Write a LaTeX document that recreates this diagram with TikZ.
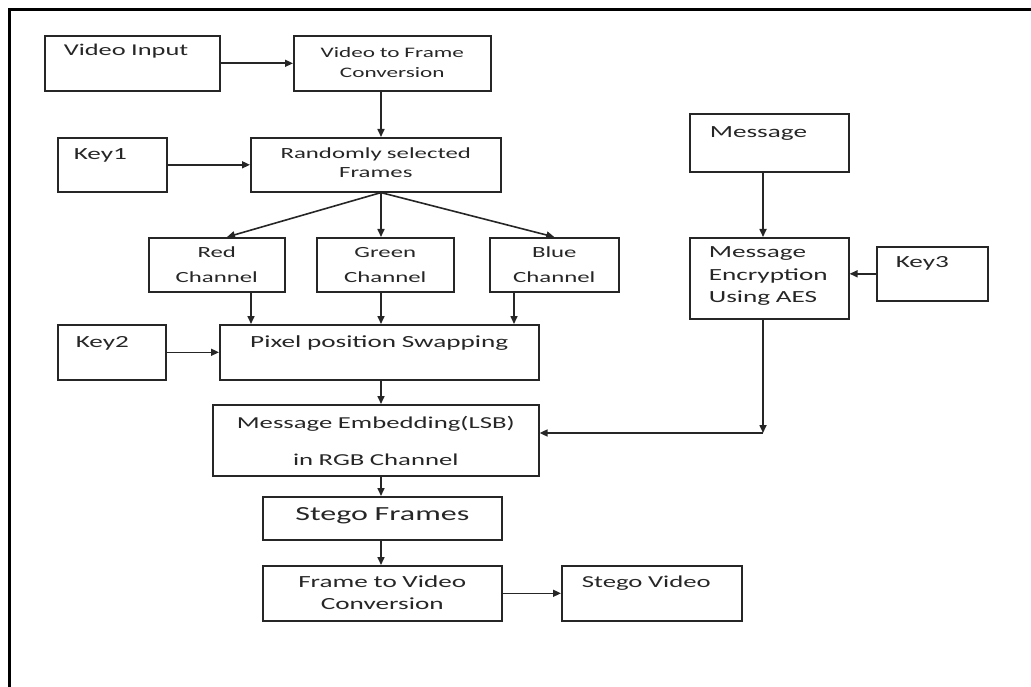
\documentclass[tikz,border=0pt]{standalone}
\usepackage{fontspec}
\newfontfamily\boxfont[FakeStretch=1.6]{Carlito}
\usetikzlibrary{arrows.meta}

\tikzset{
  box/.style={draw=black!85, line width=1.6pt, anchor=north west, inner ysep=0pt, text=black!85},
  lft/.style={box, align=left, inner xsep=19pt},
  ctr/.style={box, align=center, inner xsep=4pt},
  fs/.style 2 args={font=\boxfont\fontsize{#1}{#2}\selectfont},
  arr/.style={draw=black!85, line width=1.6pt, -{Triangle[length=8pt,width=7pt]}}
}

\begin{document}
\begin{tikzpicture}[x=1pt, y=-1pt]
   \useasboundingbox (0,0) rectangle (1031,687);
   % page frame, only top and left edges show
   \draw[line width=3pt] (9.5,700) -- (9.5,10) -- (1040,10);

   % left column
   \node[lft, fs={16.5}{20}, text width=137pt, text height=20pt, text depth=35pt] (vin) at (44,35) {Video Input};
   \node[ctr, fs={14.5}{20}, text width=189pt, text height=22pt, text depth=33pt] (v2f) at (293,35) {Video to Frame\\Conversion};
   \node[lft, inner xsep=16pt, fs={17}{20}, text width=77pt, text height=22pt, text depth=32pt] (key1) at (57,137) {Key1};
   \node[ctr, fs={15.5}{19}, text width=242pt, text height=21pt, text depth=33pt] (rsf) at (250,137) {Randomly selected\\Frames};

   % channels
   \node[ctr, fs={15.5}{25}, text width=128pt, text height=20pt, text depth=34pt] (red) at (148,237) {Red\\Channel};
   \node[ctr, fs={15.5}{25}, text width=129pt, text height=20pt, text depth=34pt] (green) at (316,237) {Green\\Channel};
   \node[ctr, fs={15.5}{25}, text width=121pt, text height=20pt, text depth=34pt] (blue) at (489,237) {Blue\\Channel};

   \node[lft, inner xsep=18pt, fs={17}{20}, text width=72pt, text height=23pt, text depth=32pt] (key2) at (57,324) {Key2};
   \node[ctr, fs={17}{20}, text width=311pt, text height=23pt, text depth=32pt] (pps) at (219,324) {Pixel position Swapping};
   \node[ctr, fs={16.7}{37.5}, text width=318pt, text height=23.5pt, text depth=47.5pt] (emb) at (212,404) {Message Embedding(LSB)\\in RGB Channel};
   \node[ctr, fs={20}{24}, text width=231pt, text height=24pt, text depth=19pt] (sf) at (262,496) {Stego Frames};
   \node[ctr, fs={17}{22}, text width=231pt, text height=22pt, text depth=33pt] (f2v) at (262,565) {Frame to Video\\Conversion};
   \node[lft, inner xsep=20pt, fs={16.7}{20}, text width=140pt, text height=22pt, text depth=33pt] (sv) at (561,565) {Stego Video};

   % right column
   \node[lft, inner xsep=20pt, fs={17}{20}, text width=119pt, text height=24pt, text depth=34pt] (msg) at (689,113) {Message};
   \node[lft, fs={17}{22.5}, text width=121pt, text height=20pt, text depth=61pt] (enc) at (689,237) {Message\\Encryption\\Using AES};
   \node[lft, fs={17}{20}, text width=73pt, text height=21pt, text depth=33pt] (key3) at (876,246) {Key3};

   \coordinate (spine) at (381,0);
   \coordinate (rin) at (227,0);
   \coordinate (rout) at (251,0);
   \coordinate (bout) at (514,0);
   \coordinate (rt) at (763,0);
   \coordinate (jn) at (763,433);

   \draw[arr] (vin) -- (v2f);
   \draw[arr] (v2f.south -| spine) -- (rsf.north -| spine);
   \draw[arr] (key1) -- (rsf);
   \draw[arr] (rsf.south -| spine) -- (red.north -| rin);
   \draw[arr] (rsf.south -| spine) -- (green.north -| spine);
   \draw[arr] (rsf.south -| spine) -- (blue.north);
   \draw[arr] (red.south -| rout) -- (pps.north -| rout);
   \draw[arr] (green.south -| spine) -- (pps.north -| spine);
   \draw[arr] (blue.south -| bout) -- (pps.north -| bout);
   \draw[arr] (key2) -- (pps);
   \draw[arr] (pps.south -| spine) -- (emb.north -| spine);
   \draw[arr] (emb.south -| spine) -- (sf.north -| spine);
   \draw[arr] (sf.south -| spine) -- (f2v.north -| spine);
   \draw[arr] (f2v) -- (sv);
   \draw[arr] (msg.south -| rt) -- (enc.north -| rt);
   \draw[arr] (key3.west) -- (key3.west -| enc.east);
   \draw[arr] (enc.south -| rt) -- (jn);
   \draw[arr] (jn) -- (jn -| emb.east);

\end{tikzpicture}
\end{document}
